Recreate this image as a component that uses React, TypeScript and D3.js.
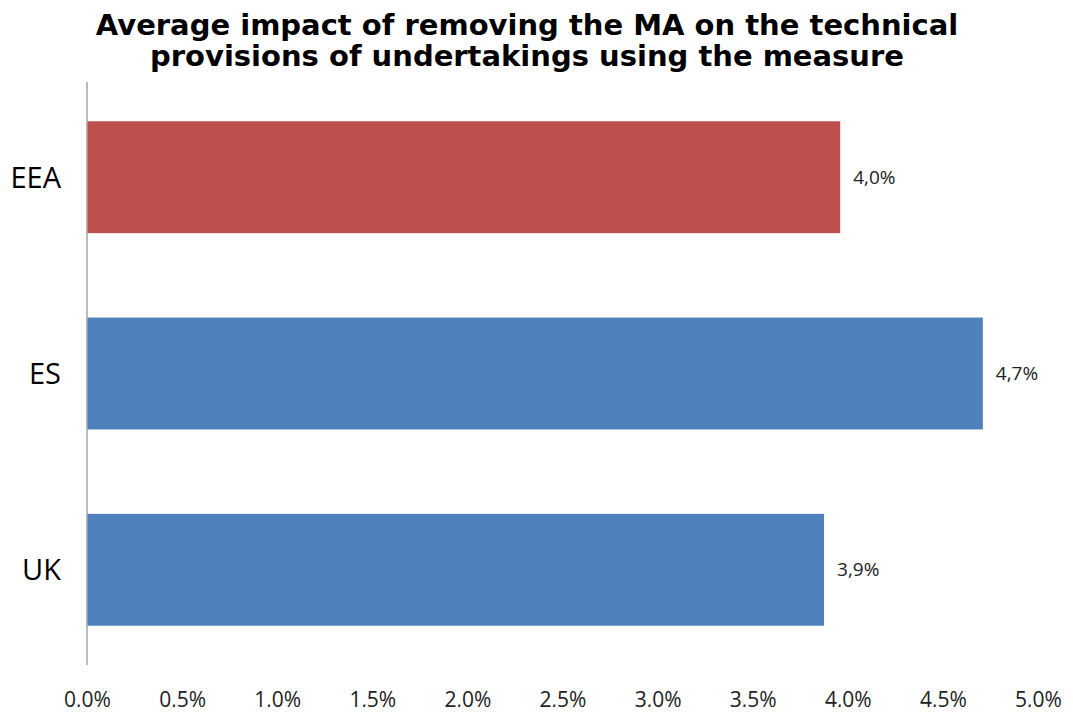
import { useEffect, useRef } from 'react';
import * as d3 from 'd3';

const categories = ['EEA', 'ES', 'UK'];
const values = [3.96, 4.71, 3.875];
const valueLabels = ['4,0%', '4,7%', '3,9%'];
const barColors = ['#C0504D', '#4F81BD', '#4F81BD'];
const tickValues = [0, 0.5, 1, 1.5, 2, 2.5, 3, 3.5, 4, 4.5, 5];
const titleLines = [
  'Average impact of removing the MA on the technical',
  'provisions of undertakings using the measure',
];

export default function App() {
  const svgRef = useRef<SVGSVGElement>(null);

  useEffect(() => {
    if (!svgRef.current) return;
    const width = 1073;
    const height = 715;
    const svg = d3.select(svgRef.current);
    svg.selectAll('*').remove();
    svg.attr('width', width).attr('height', height);

    const left = 87;
    const right = 1038;
    const top = 82;
    const bottom = 665;

    const x = d3.scaleLinear().domain([0, 5]).range([left, right]);
    const y = d3.scaleBand<string>()
      .domain(categories)
      .range([top, bottom])
      .paddingInner(0.43)
      .paddingOuter(0.2);

    // titel
    svg.append('g')
      .selectAll('text')
      .data(titleLines)
      .enter()
      .append('text')
      .attr('x', 527)
      .attr('y', (_, i) => 35 + i * 31)
      .attr('text-anchor', 'middle')
      .attr('font-family', 'DejaVu Sans, Verdana, sans-serif')
      .attr('font-weight', 'bold')
      .attr('font-size', '29px')
      .attr('fill', '#000')
      .text(d => d);

    // bars
    svg.selectAll('rect.bar')
      .data(values)
      .enter()
      .append('rect')
      .attr('class', 'bar')
      .attr('x', x(0))
      .attr('y', (_, i) => y(categories[i])!)
      .attr('width', d => x(d) - x(0))
      .attr('height', y.bandwidth())
      .attr('fill', (_, i) => barColors[i]);

    // value labels
    svg.selectAll('text.val')
      .data(values)
      .enter()
      .append('text')
      .attr('class', 'val')
      .attr('x', d => x(d) + 13)
      .attr('y', (_, i) => y(categories[i])! + y.bandwidth() / 2)
      .attr('dy', '0.35em')
      .attr('font-family', 'Open Sans, sans-serif')
      .attr('font-size', '19px')
      .attr('fill', '#222')
      .text((_, i) => valueLabels[i]);

    // category labels
    svg.selectAll('text.cat')
      .data(categories)
      .enter()
      .append('text')
      .attr('class', 'cat')
      .attr('x', 61)
      .attr('y', d => y(d)! + y.bandwidth() / 2)
      .attr('dy', '0.36em')
      .attr('text-anchor', 'end')
      .attr('font-family', 'Open Sans, sans-serif')
      .attr('font-size', '29px')
      .attr('fill', '#000')
      .text(d => d);

    // vertical axis line
    svg.append('line')
      .attr('x1', left)
      .attr('x2', left)
      .attr('y1', top)
      .attr('y2', bottom)
      .attr('stroke', '#A6A6A6')
      .attr('stroke-width', 1.5);

    // x tick labels
    const xAxis = d3.axisBottom(x)
      .tickValues(tickValues)
      .tickSize(0)
      .tickPadding(0)
      .tickFormat(d => (d as number).toFixed(1).replace('.', ',') + '%');

    const gx = svg.append('g')
      .attr('transform', 'translate(0,707)')
      .call(xAxis);
    gx.select('.domain').remove();
    gx.selectAll('text')
      .attr('y', 0)
      .attr('dy', 0)
      .attr('font-family', 'Open Sans, sans-serif')
      .attr('font-size', '21px')
      .attr('fill', '#222');
  }, []);

  return <svg ref={svgRef} style={{ display: 'block', margin: '-8px' }}></svg>;
}
